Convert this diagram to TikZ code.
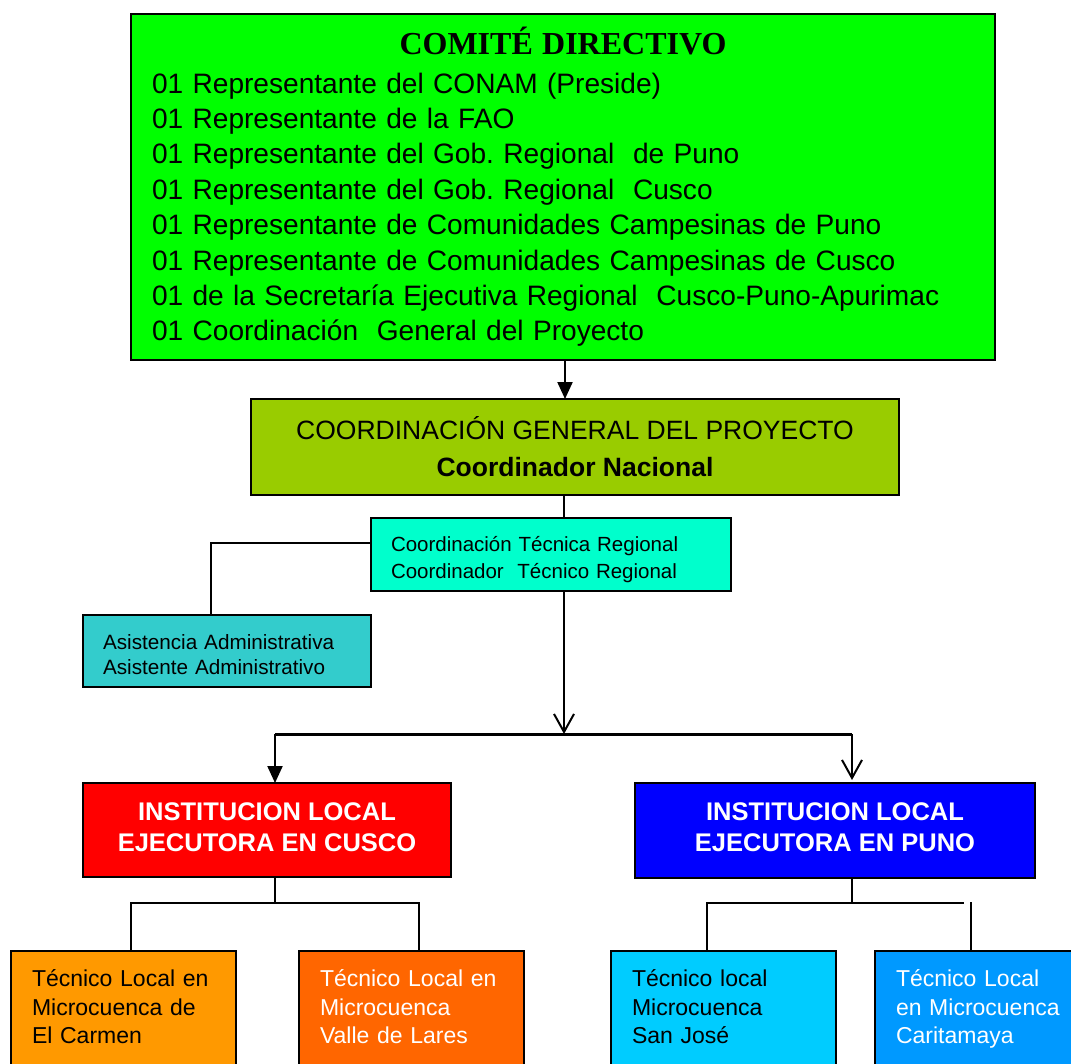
\documentclass[tikz,border=0pt]{standalone}
\usepackage{fontspec}
\setmainfont{Liberation Sans}
\newfontfamily\titleserif{Liberation Serif}
\usetikzlibrary{arrows.meta}
\frenchspacing

\definecolor{cComite}{HTML}{00FF00}
\definecolor{cGeneral}{HTML}{99CC00}
\definecolor{cTecReg}{HTML}{00FFCC}
\definecolor{cAsist}{HTML}{33CCCC}
\definecolor{cCusco}{HTML}{FF0000}
\definecolor{cPuno}{HTML}{0000FF}
\definecolor{cCarmen}{HTML}{FF9900}
\definecolor{cLares}{HTML}{FF6600}
\definecolor{cJose}{HTML}{00CCFF}
\definecolor{cCarit}{HTML}{0099FF}

\begin{document}
\begin{tikzpicture}[x=1pt,y=-1pt,
  box/.style={draw=black, line width=1.6pt, rectangle, inner sep=0pt, outer sep=0pt},
  leftbox/.style={box, align=left, inner xsep=20pt},
  instbox/.style={box, align=center, text=white,
    font=\fontsize{25.5}{31}\selectfont\bfseries},
  localbox/.style={box, anchor=north west, align=left, minimum width=225pt,
    text width=183pt, inner xsep=21pt, inner ysep=18.5pt,
    text height=17pt, text depth=120pt, font=\fontsize{23}{28.5}\selectfont},
  conn/.style={draw=black, line width=2.2pt},
  thinconn/.style={draw=black, line width=1.5pt},
  bar/.style={draw=black, line width=3pt},
  solidtip/.style={-{Triangle[width=15pt,length=17pt]}},
  opentip/.style={-{Straight Barb[width=20pt,length=18pt,line width=2pt]}}
]
\useasboundingbox (0,0) rectangle (1071,1063);
\clip (0,0) rectangle (1071,1063);

% Steering committee
\node[box, fill=cComite, anchor=north west, minimum width=864pt, minimum height=346pt,
      text width=822pt, inner xsep=21pt, align=left,
      font=\fontsize{28.1}{35.4}\selectfont] (comite) at (131,14)
  {\makebox[822pt][c]{\titleserif\bfseries\fontsize{32}{35}\selectfont COMITÉ DIRECTIVO}\\[3pt]
   01 Representante del CONAM (Preside)\\
   01 Representante de la FAO\\
   01 Representante del Gob. Regional\ \ de Puno\\
   01 Representante del Gob. Regional\ \ Cusco\\
   01 Representante de Comunidades Campesinas de Puno\\
   01 Representante de Comunidades Campesinas de Cusco\\
   01 de la Secretaría Ejecutiva Regional\ \ Cusco-Puno-Apurimac\\
   01 Coordinación\ \ General del Proyecto};

% General coordination
\node[box, fill=cGeneral, minimum width=648pt, minimum height=96pt, align=center,
      font=\fontsize{26.5}{37}\selectfont] (general) at (575,447)
  {COORDINACIÓN GENERAL DEL PROYECTO\\\textbf{Coordinador Nacional}};

% Regional technical coordination and administrative assistance
\node[leftbox, fill=cTecReg, minimum width=360pt, minimum height=73pt, text width=320pt,
      font=\fontsize{20.5}{27}\selectfont] (tecreg) at (551,554.5)
  {\rule{0pt}{25pt}Coordinación Técnica Regional\\Coordinador\ \ Técnico Regional};
\node[leftbox, fill=cAsist, minimum width=288pt, minimum height=72pt, text width=248pt,
      font=\fontsize{20.7}{25}\selectfont] (asist) at (227,651)
  {\rule{0pt}{22pt}Asistencia Administrativa\\Asistente Administrativo};

% Local executing institutions
\node[instbox, fill=cCusco, minimum width=368pt, minimum height=94pt] (cusco) at (267,830)
  {INSTITUCION LOCAL\\EJECUTORA EN CUSCO\rule[-6pt]{0pt}{6pt}};
\node[instbox, fill=cPuno, minimum width=400pt, minimum height=95pt] (puno) at (835,830.5)
  {INSTITUCION LOCAL\\EJECUTORA EN PUNO\rule[-6pt]{0pt}{6pt}};

% Local technicians
\node[localbox, fill=cCarmen] (carmen) at (11,951)
  {Técnico Local en\\Microcuenca de\\El Carmen};
\node[localbox, fill=cLares, text=white] (lares) at (299,951)
  {Técnico Local en\\Microcuenca\\Valle de Lares};
\node[localbox, fill=cJose] (jose) at (611,951)
  {Técnico local\\Microcuenca\\San José};
\node[localbox, fill=cCarit, text=white] (carit) at (875,951)
  {Técnico Local\\en Microcuenca\\Caritamaya};

% Connector guide points
\coordinate (spineA) at (565,0);
\coordinate (spineB) at (564,0);
\coordinate (barmid) at (564,734);
\coordinate (barL) at (275,734);
\coordinate (barR) at (852,734);
\coordinate (elbowA) at (211,543);
\coordinate (cj) at (275,903);
\coordinate (cjL) at (131,903);
\coordinate (cjR) at (419,903);
\coordinate (pj) at (852,903);
\coordinate (pjL) at (707,903);
\coordinate (pjR) at (964,903);
\coordinate (pjV) at (971,902);

% Main chain
\draw[conn, solidtip] (comite.south -| spineA) -- (general.north -| spineA);
\draw[conn] (general.south -| spineB) -- (tecreg.north -| spineB);
\draw[conn, opentip] (tecreg.south -| barmid) -- (barmid);
\draw[bar] (barL) -- (barR);
\draw[conn, solidtip] (barL) -- (cusco.north -| barL);
\draw[conn, opentip, shorten >=3pt] (barR) -- (puno.north -| barR);

% Administrative assistance branch
\draw[thinconn] (tecreg.west |- elbowA) -- (elbowA) -- (asist.north -| elbowA);

% Cusco technicians
\draw[thinconn] (cusco.south -| cj) -- (cj);
\draw[thinconn] (carmen.north -| cjL) -- (cjL) -- (cjR) -- (lares.north -| cjR);

% Puno technicians
\draw[thinconn] (puno.south -| pj) -- (pj);
\draw[thinconn] (jose.north -| pjL) -- (pjL) -- (pjR);
\draw[thinconn] (pjV) -- (carit.north -| pjV);
\end{tikzpicture}
\end{document}
